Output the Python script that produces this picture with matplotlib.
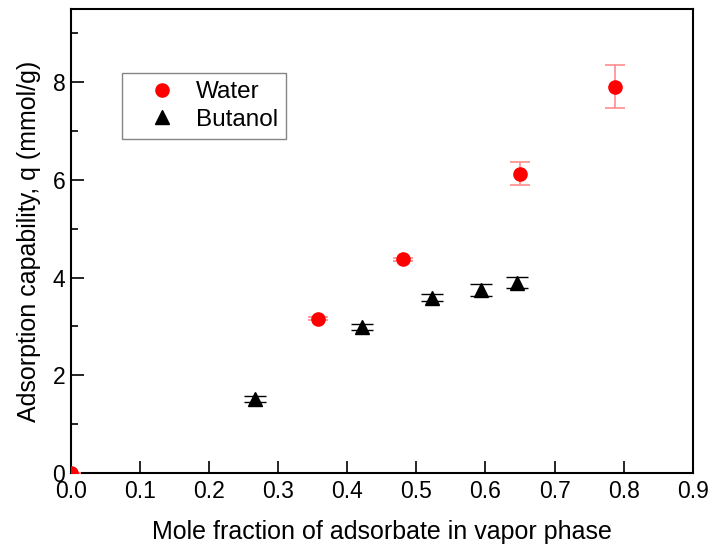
import matplotlib
matplotlib.use("Agg")
import matplotlib.pyplot as plt
from matplotlib.ticker import MultipleLocator
from matplotlib.lines import Line2D

plt.rcParams['font.family'] = ['Liberation Sans', 'DejaVu Sans']

water_x = [0.0, 0.357, 0.480, 0.650, 0.788]
water_y = [0.0, 3.16, 4.38, 6.13, 7.91]
water_err = [0.0, 0.03, 0.03, 0.23, 0.44]

butanol_x = [0.267, 0.422, 0.522, 0.593, 0.646]
butanol_y = [1.52, 2.99, 3.59, 3.75, 3.90]
butanol_err = [0.06, 0.06, 0.07, 0.12, 0.12]

fig = plt.figure(figsize=(7.09, 5.44), dpi=100)
ax = fig.add_axes([0.100, 0.1305, 0.877, 0.853])

ax.errorbar(water_x, water_y, yerr=water_err, fmt='o', color='red', ms=9.5,
            ecolor=(1, 0.55, 0.55), elinewidth=1.2, capsize=7, capthick=1.2,
            zorder=3)
ax.errorbar(butanol_x, butanol_y, yerr=butanol_err, fmt='^', color='black', ms=10.5,
            ecolor='black', elinewidth=1.0, capsize=8, capthick=1.0,
            zorder=3)

ax.set_xlim(0, 0.9)
ax.set_ylim(0, 9.5)
ax.yaxis.set_major_locator(MultipleLocator(2))
ax.yaxis.set_minor_locator(MultipleLocator(1))
xt = [0, 0.1, 0.2, 0.3, 0.4, 0.5, 0.6, 0.7, 0.8, 0.9]
ax.set_xticks(xt)
ax.set_xticklabels([f'{v:.1f}' for v in xt])
ax.tick_params(axis='both', which='major', direction='in', length=9, width=1.2,
               labelsize=16.5, top=False, right=False)
ax.tick_params(axis='x', which='major', pad=5)
ax.tick_params(axis='y', which='major', pad=4)
ax.tick_params(axis='y', which='minor', direction='in', length=5, width=1.2)
for s in ax.spines.values():
    s.set_linewidth(1.5)

ax.set_xlabel('Mole fraction of adsorbate in vapor phase', fontsize=18, labelpad=12)
ax.set_ylabel('Adsorption capability, q (mmol/g)', fontsize=18, labelpad=8)

handles = [Line2D([], [], ls='none', marker='o', color='red', ms=9.5),
           Line2D([], [], ls='none', marker='^', color='black', ms=10)]
leg = ax.legend(handles, ['Water', 'Butanol'], loc='upper left',
                bbox_to_anchor=(0.0815, 0.8627), fontsize=17.5,
                frameon=True, fancybox=False, edgecolor='#666666',
                handletextpad=0.05, borderpad=0.35, labelspacing=0.22,
                borderaxespad=0, handlelength=2.65)
leg.get_frame().set_linewidth(1.0)

fig.savefig('out.png', dpi=100)
